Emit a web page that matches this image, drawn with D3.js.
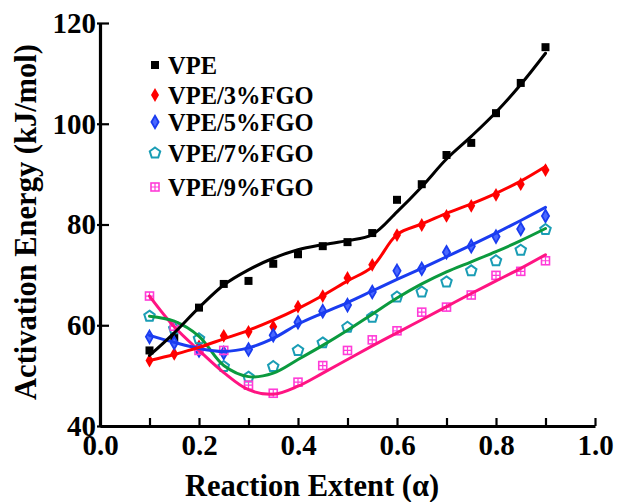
<!DOCTYPE html>
<html>
<head>
<meta charset="utf-8">
<script src="https://cdn.jsdelivr.net/npm/d3@7"></script>
</head>
<body style="margin:0;background:#fff">
<svg id="chart" width="619" height="502" style="display:block"></svg>
<script>
// ---- data ----
const alpha = [0.10, 0.15, 0.20, 0.25, 0.30, 0.35, 0.40, 0.45, 0.50, 0.55, 0.60, 0.65, 0.70, 0.75, 0.80, 0.85, 0.90];

const seriesNames = ["VPE", "VPE/3%FGO", "VPE/5%FGO", "VPE/7%FGO", "VPE/9%FGO"];

// measured points
const vpePts  = [55.0, 57.5, 63.5, 68.2, 68.8, 72.2, 74.1, 75.7, 76.5, 78.3, 84.9, 88.0, 93.8, 96.2, 102.1, 108.1, 115.2];
const fgo3Pts = [53.0, 54.3, 55.8, 57.9, 58.7, 59.7, 63.7, 65.8, 69.4, 72.0, 77.9, 79.9, 81.7, 83.7, 85.9, 88.0, 90.8];
const fgo5Pts = [57.7, 56.5, 55.0, 54.5, 55.2, 58.0, 60.6, 62.8, 64.0, 66.6, 70.8, 71.2, 74.5, 75.7, 77.6, 79.1, 81.7];
const fgo7Pts = [61.8, 59.3, 57.3, 51.8, 49.7, 51.8, 55.0, 56.5, 59.6, 61.6, 65.6, 66.6, 68.6, 70.8, 72.8, 74.9, 79.0];
const fgo9Pts = [65.8, 59.8, 55.0, 55.0, 48.1, 46.5, 48.7, 52.0, 55.0, 57.1, 58.9, 62.6, 63.6, 66.0, 69.9, 70.7, 72.8];

// fitted curves
const vpeFit  = [54.0, 58.5, 63.5, 68.0, 71.0, 73.3, 75.0, 76.0, 76.8, 78.0, 82.5, 87.5, 93.0, 97.5, 102.3, 107.8, 114.0];
const fgo3Fit = [53.0, 54.2, 55.6, 57.3, 59.0, 61.0, 63.3, 65.9, 68.8, 71.6, 78.0, 80.1, 82.2, 84.1, 86.2, 88.6, 91.5];
const fgo5Fit = [58.0, 56.6, 55.4, 54.8, 55.5, 57.4, 60.2, 62.4, 64.5, 66.8, 69.1, 71.3, 73.6, 75.9, 78.3, 80.8, 83.4];
const fgo7Fit = [61.8, 60.8, 57.8, 52.0, 49.8, 50.5, 53.2, 56.0, 59.0, 62.2, 65.4, 68.2, 70.6, 72.6, 74.6, 76.8, 79.2];
const fgo9Fit = [65.8, 59.7, 55.0, 50.6, 47.2, 46.3, 47.9, 50.5, 53.2, 55.9, 58.5, 61.1, 63.7, 66.3, 68.8, 71.3, 74.0];

const xTicks = [0.0, 0.1, 0.2, 0.3, 0.4, 0.5, 0.6, 0.7, 0.8, 0.9, 1.0];
const xTickLabels = ["0.0", "", "0.2", "", "0.4", "", "0.6", "", "0.8", "", "1.0"];
const yTicks = [40, 60, 80, 100, 120];
const yTickLabels = ["40", "60", "80", "100", "120"];

const xTitle = "Reaction Extent (\u03b1)";
const yTitle = "Activation Energy (kJ/mol)";

// ---- styles ----
const FONT = '"Liberation Serif", "Tinos", "Nimbus Roman", "FreeSerif", serif';
const styles = [
  { pts: vpePts,  fit: vpeFit,  line: "#000000", mark: "#000000", shape: "square" },
  { pts: fgo3Pts, fit: fgo3Fit, line: "#ff0000", mark: "#ff0000", shape: "diamond" },
  { pts: fgo5Pts, fit: fgo5Fit, line: "#1a3cf0", mark: "#1a3cf0", shape: "diamondB" },
  { pts: fgo7Pts, fit: fgo7Fit, line: "#0b9a3e", mark: "#1a9db5", shape: "pentagon" },
  { pts: fgo9Pts, fit: fgo9Fit, line: "#ff1482", mark: "#ff3cd8", shape: "boxcross" }
];

const svg = d3.select("#chart");
const x = d3.scaleLinear().domain([0, 1]).range([100, 595]);
const y = d3.scaleLinear().domain([40, 120]).range([426, 23]);

function drawMarker(g, shape, color, cx, cy) {
  if (shape === "square") {
    g.append("path").attr("d", d3.symbol(d3.symbolSquare, 64)())
      .attr("transform", `translate(${cx},${cy})`).attr("fill", color);
  } else if (shape === "diamond") {
    g.append("path").attr("d", d3.symbol(d3.symbolDiamond, 55)())
      .attr("transform", `translate(${cx},${cy})`).attr("fill", color);
  } else if (shape === "diamondB") {
    g.append("path").attr("d", d3.symbol(d3.symbolDiamond, 45)())
      .attr("transform", `translate(${cx},${cy})`).attr("fill", "#4a68ff")
      .attr("stroke", color).attr("stroke-width", 1.8);
  } else if (shape === "pentagon") {
    const r = 5.5;
    const pts = d3.range(5).map(i => {
      const a = -Math.PI / 2 + i * 2 * Math.PI / 5;
      return [cx + r * Math.cos(a), cy + r * Math.sin(a)];
    });
    g.append("path").attr("d", "M" + pts.join("L") + "Z")
      .attr("fill", "none").attr("stroke", color).attr("stroke-width", 2);
  } else if (shape === "boxcross") {
    const h = 4;
    g.append("rect").attr("x", cx - h).attr("y", cy - h).attr("width", 2 * h).attr("height", 2 * h)
      .attr("fill", "none").attr("stroke", color).attr("stroke-width", 1.6);
    g.append("path").attr("d", `M${cx - h},${cy}H${cx + h}M${cx},${cy - h}V${cy + h}`)
      .attr("stroke", color).attr("stroke-width", 1.2);
  }
}

// markers
const markG = svg.append("g");
styles.forEach(s => {
  s.pts.forEach((v, i) => drawMarker(markG, s.shape, s.mark, x(alpha[i]), y(v)));
});

// fitted lines (black drawn last, on top)
const lineGen = d3.line().x((d, i) => x(alpha[i])).y(d => y(d)).curve(d3.curveCatmullRom.alpha(0.5));
[4, 3, 2, 1, 0].forEach(k => {
  const s = styles[k];
  svg.append("path").datum(s.fit).attr("d", lineGen)
    .attr("fill", "none").attr("stroke", s.line).attr("stroke-width", 3)
    .attr("stroke-linejoin", "round").attr("stroke-linecap", "round");
});

// axes
const xAxis = d3.axisBottom(x).tickValues(xTicks).tickSize(-8).tickSizeOuter(0).tickPadding(8)
  .tickFormat((d, i) => xTickLabels[i]);
const gx = svg.append("g").attr("transform", "translate(0,426)").call(xAxis);
gx.attr("font-family", FONT).attr("font-size", 29).attr("font-weight", "bold");
gx.select(".domain").attr("stroke", "#000").attr("stroke-width", 3.2);
gx.selectAll(".tick line").attr("stroke", "#000").attr("stroke-width", 2.2);
gx.selectAll(".tick text").attr("fill", "#000").attr("font-family", FONT);

const yAxis = d3.axisLeft(y).tickValues(yTicks).tickSize(-9).tickSizeOuter(0).tickPadding(4)
  .tickFormat((d, i) => yTickLabels[i]);
const gy = svg.append("g").attr("transform", "translate(100,0)").call(yAxis);
gy.attr("font-family", FONT).attr("font-size", 29).attr("font-weight", "bold");
gy.select(".domain").attr("stroke", "#000").attr("stroke-width", 3.2);
gy.selectAll(".tick line").attr("stroke", "#000").attr("stroke-width", 2.2).attr("x1", -3);
gy.selectAll(".tick text").attr("fill", "#000").attr("font-family", FONT);

// axis titles
svg.append("text").attr("x", 312).attr("y", 496).attr("text-anchor", "middle")
  .attr("font-family", FONT).attr("font-weight", "bold")
  .attr("font-size", 30.5).text(xTitle);
svg.append("text").attr("transform", "translate(36,222) rotate(-90)").attr("text-anchor", "middle")
  .attr("font-family", FONT).attr("font-weight", "bold")
  .attr("font-size", 30.5).text(yTitle);

// legend
const legendY = [65, 95, 122, 153, 187];
const legend = svg.append("g");
styles.forEach((s, i) => {
  drawMarker(legend, s.shape, s.mark, 155, legendY[i]);
  legend.append("text").attr("x", 168).attr("y", legendY[i] + 8.5)
    .attr("font-family", FONT).attr("font-weight", "bold")
    .attr("font-size", 24.5).text(seriesNames[i]);
});
</script>
</body>
</html>
